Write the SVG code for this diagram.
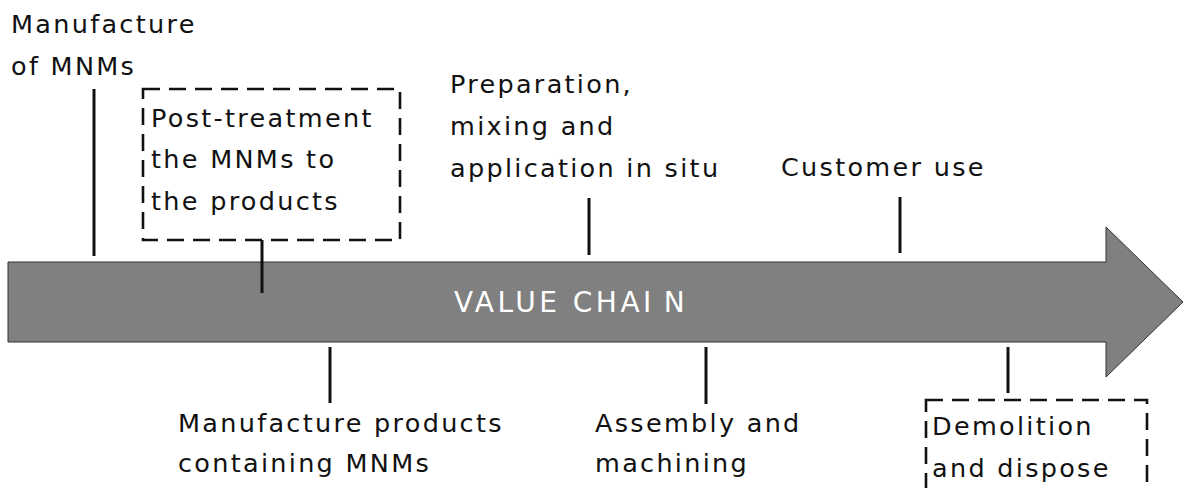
<svg xmlns="http://www.w3.org/2000/svg" width="1184" height="488" viewBox="0 0 1184 488">
  <style>
    .lbl { font-family: "DejaVu Sans", Verdana, sans-serif; font-size: 25.5px; letter-spacing: 2.3px; fill: #111; }
    .title { font-family: "DejaVu Sans", Verdana, sans-serif; font-size: 28px; letter-spacing: 3.5px; fill: #fff; }
    .tick { stroke: #111; stroke-width: 3; fill: none; }
    .dash { stroke: #111; stroke-width: 2.6; stroke-dasharray: 17 9; fill: none; }
  </style>
  <rect width="1184" height="488" fill="#fff"/>

  <!-- main value-chain arrow -->
  <g id="value-chain">
    <polygon points="8,262 1106,262 1106,227 1183,302 1106,377 1106,342 8,342" fill="#808080" stroke="#333" stroke-width="1"/>
    <text class="title" x="454" y="312">VALUE CHAI<tspan dx="9">N</tspan></text>
  </g>

  <!-- stage labels above the arrow -->
  <g id="manufacture-mnms">
    <text class="lbl" x="11" y="33">Manufacture</text>
    <text class="lbl" x="11" y="75">of MNMs</text>
  </g>
  <g id="post-treatment">
    <rect class="dash" x="143" y="89" width="257" height="151"/>
    <text class="lbl" x="151" y="127">Post-treatment</text>
    <text class="lbl" x="151" y="168">the MNMs to</text>
    <text class="lbl" x="151" y="210">the products</text>
  </g>
  <g id="preparation">
    <text class="lbl" x="450" y="93">Preparation,</text>
    <text class="lbl" x="450" y="135">mixing and</text>
    <text class="lbl" x="450" y="177">application in situ</text>
  </g>
  <g id="customer-use">
    <text class="lbl" x="781" y="176">Customer use</text>
  </g>

  <!-- stage labels below the arrow -->
  <g id="manufacture-products">
    <text class="lbl" x="178" y="432">Manufacture products</text>
    <text class="lbl" x="178" y="472">containing MNMs</text>
  </g>
  <g id="assembly">
    <text class="lbl" x="595" y="432">Assembly and</text>
    <text class="lbl" x="595" y="472">machining</text>
  </g>
  <g id="demolition">
    <rect class="dash" x="926" y="400" width="221" height="110"/>
    <text class="lbl" x="932" y="435">Demolition</text>
    <text class="lbl" x="932" y="477">and dispose</text>
  </g>

  <!-- tick connectors between labels and the arrow -->
  <g id="connectors">
    <line class="tick" x1="94" y1="89" x2="94" y2="256"/>
    <line class="tick" x1="262" y1="240" x2="262" y2="293"/>
    <line class="tick" x1="589" y1="198" x2="589" y2="255"/>
    <line class="tick" x1="900" y1="197" x2="900" y2="253"/>
    <line class="tick" x1="330" y1="347" x2="330" y2="403"/>
    <line class="tick" x1="706" y1="347" x2="706" y2="404"/>
    <line class="tick" x1="1008" y1="347" x2="1008" y2="393"/>
  </g>
</svg>
